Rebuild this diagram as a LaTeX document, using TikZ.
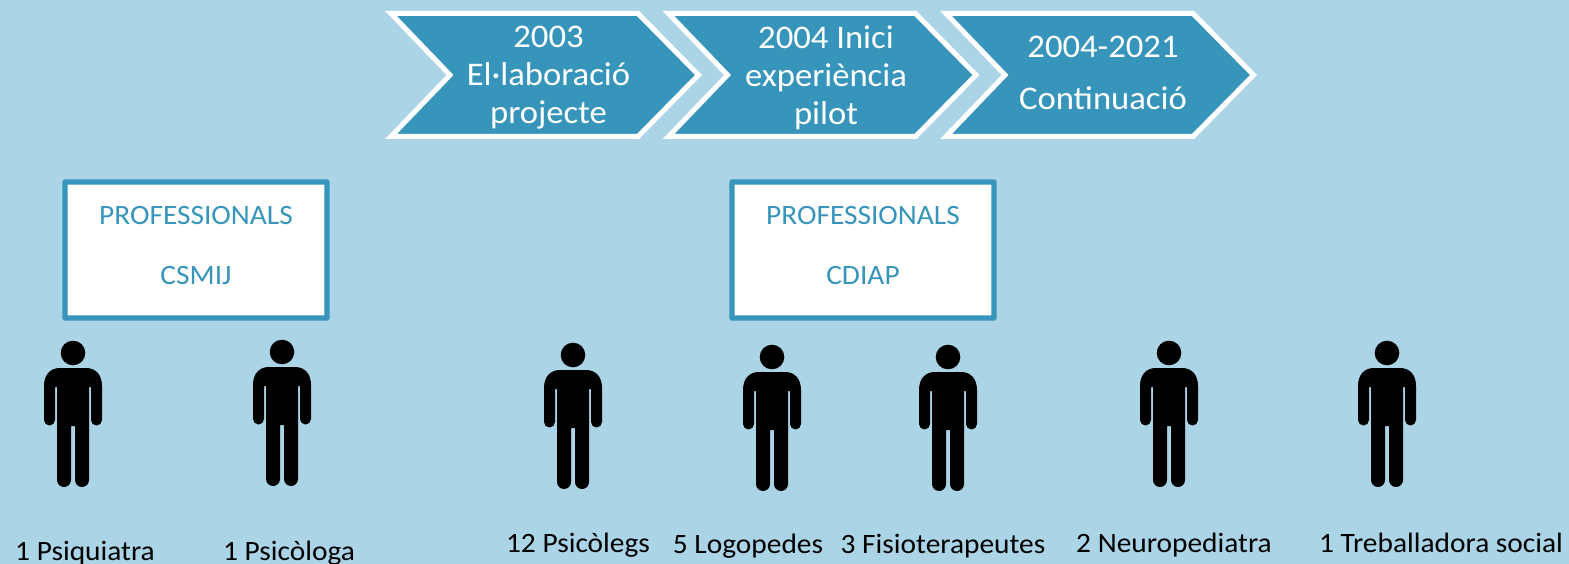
\documentclass[tikz,border=0pt]{standalone}
\usepackage{fontspec}
\setmainfont[FakeStretch=1.05]{Carlito}
\definecolor{bgblue}{HTML}{ABD4E6}
\definecolor{midblue}{HTML}{3795BC}
\tikzset{
  x=1pt,y=-1pt,
  chevron/.style={fill=midblue,draw=white,line width=5pt,miter limit=10},
  chevtext/.style={text=white,align=center,font=\fontsize{33}{38}\selectfont,inner sep=0pt},
  probox/.style={draw=midblue,fill=white,line width=5.4pt,minimum width=262pt,minimum height=136pt,rounded corners=0.5pt,inner sep=0pt,text=midblue,align=center,font=\fontsize{28}{60}\selectfont},
  role/.style={text=black,font=\fontsize{28}{30}\selectfont,inner sep=0pt,anchor=base},
  person/.pic={
    \fill[black] (0,0) circle[radius=12.3];
    \fill[black,rounded corners=0pt]
      (-29,33) .. controls (-29,21) and (-22,15) .. (-13,15)
      -- (13,15) .. controls (22,15) and (29,21) .. (29,33)
      -- (29,67) arc[start angle=0,end angle=180,radius=5.5] -- (18,34)
      -- (16,34) -- (16,127) arc[start angle=0,end angle=180,radius=7]
      -- (2,73) -- (-2,73) -- (-2,127)
      arc[start angle=0,end angle=180,radius=7]
      -- (-16,34) -- (-18,34) -- (-18,67)
      arc[start angle=0,end angle=180,radius=5.5] -- cycle;
  }
}
\begin{document}
\begin{tikzpicture}
\useasboundingbox (0,0) rectangle (1569,564);
\fill[bgblue] (0,0) rectangle (1569,564);
\foreach \dx in {0,277.5,555}{
  \draw[chevron,xshift=\dx pt] (391,13.5) -- (638,13.5) -- (698.5,75) -- (638,136.5) -- (391,136.5) -- (450,75) -- cycle;
}
\node[chevtext] (c1) at (548.5,78) {2003\\El·laboració\\projecte};
\node[chevtext] (c2) at (826,78) {2004 Inici\\experiència\\pilot};
\node[chevtext,font=\fontsize{33}{52}\selectfont] (c3) at (1103,73) {2004-2021\\Continuació};
\node[probox] (b1) at (196,250) {\raisebox{10pt}{PROFESSIONALS}\\\raisebox{10pt}{CSMIJ}};
\node[probox] (b2) at (863,250) {\raisebox{10pt}{PROFESSIONALS}\\\raisebox{10pt}{CDIAP}};
\pic (p1) at (73,353) {person};
\pic (p2) at (282,352) {person};
\pic (p3) at (573,355) {person};
\pic (p4) at (772,357) {person};
\pic (p5) at (948,357) {person};
\pic (p6) at (1169,353) {person};
\pic (p7) at (1387,353) {person};
\node[role] (r1) at (85,560) {1 Psiquiatra};
\node[role] (r2) at (289,560) {1 Psicòloga};
\node[role] (r3) at (578,552) {12 Psicòlegs};
\node[role] (r4) at (748,553) {5 Logopedes};
\node[role] (r5) at (943,553) {3 Fisioterapeutes};
\node[role] (r6) at (1174,552) {2 Neuropediatra};
\node[role] (r7) at (1441,552) {1 Treballadora social};
\end{tikzpicture}
\end{document}
